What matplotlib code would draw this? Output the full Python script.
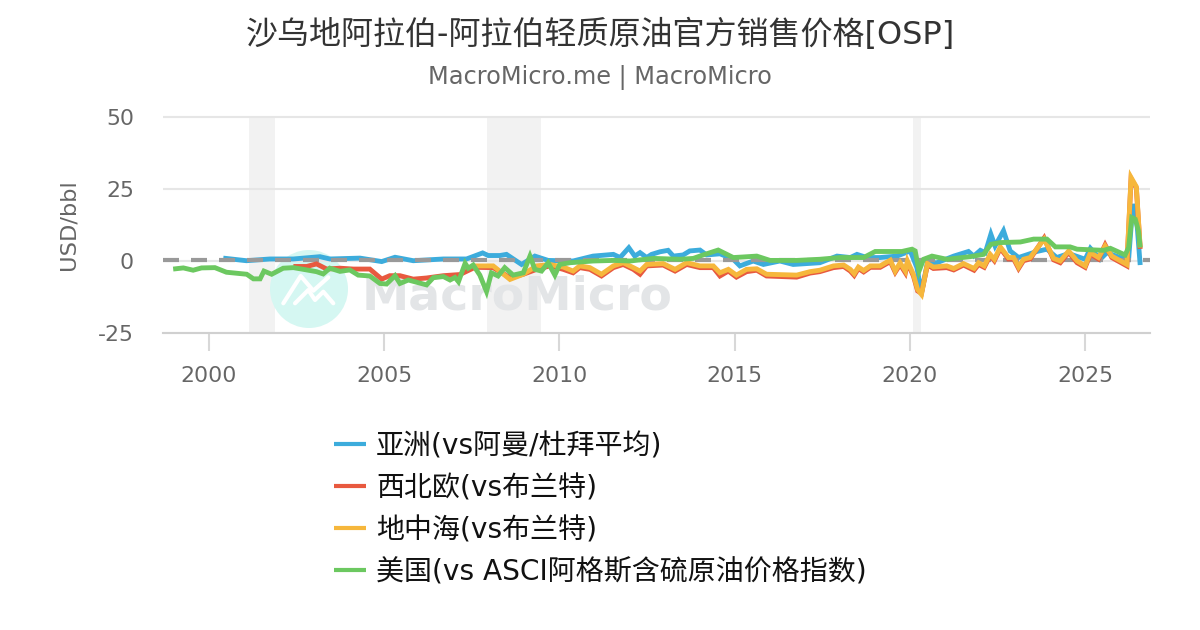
import matplotlib
matplotlib.use("Agg")
import matplotlib.pyplot as plt
from matplotlib.patches import Circle

plt.rcParams['font.family'] = ['DejaVu Sans', 'Noto Sans CJK SC']
plt.rcParams['lines.solid_capstyle'] = 'butt'

asia_x = [2000.41, 2001.07, 2001.74, 2002.41, 2003.17, 2003.45, 2004.31, 2004.93, 2005.31, 2005.83,
          2006.69, 2007.35, 2007.81, 2007.97, 2008.30, 2008.49, 2008.92, 2009.30, 2009.68, 2010.39,
          2010.96, 2011.54, 2011.73, 2011.98, 2012.15, 2012.30, 2012.49, 2012.63, 2012.87, 2013.10,
          2013.25, 2013.53, 2013.72, 2014.01, 2014.20, 2014.58, 2014.96, 2015.15, 2015.53, 2015.82,
          2016.29, 2016.67, 2017.43, 2017.92, 2018.30, 2018.49, 2018.77, 2019.15, 2019.63, 2020.01,
          2020.20, 2020.33, 2020.50, 2020.77, 2021.25, 2021.67, 2021.82, 2022.01, 2022.15, 2022.31,
          2022.43, 2022.67, 2022.86, 2023.10, 2023.62, 2023.91, 2024.19, 2024.53, 2025.00, 2025.15,
          2025.43, 2025.62, 2026.00, 2026.24, 2026.36, 2026.48, 2026.57]
asia_y = [1.0, 0.1, 0.7, 0.7, 1.5, 0.7, 1.0, -0.2, 1.3, 0.1,
          0.7, 0.7, 2.8, 1.9, 1.9, 2.3, -1.2, 1.7, 0.2, 0.0,
          1.7, 2.3, 1.2, 4.6, 1.7, 2.9, 1.2, 2.3, 3.2, 3.7,
          1.7, 2.1, 3.5, 3.8, 2.1, 2.5, 0.6, -1.7, 0.0, -1.2,
          0.0, -1.2, -0.6, 1.7, 1.2, 2.3, 1.2, 1.2, 1.7, 3.5,
          -2.3, -11.0, -0.6, -0.6, 1.7, 3.3, 1.7, 3.7, 2.9, 9.3,
          5.2, 10.5, 3.5, 1.2, 3.3, 4.1, 1.2, 2.6, 0.6, 4.4,
          0.6, 2.9, 1.2, 0.6, 19.8, 12.8, -1.4]

nwe_x = [2002.41, 2002.79, 2003.07, 2003.36, 2003.74, 2004.12, 2004.59, 2004.93, 2005.16, 2005.45,
         2005.83, 2006.21, 2006.69, 2007.16, 2007.59, 2008.11, 2008.59, 2008.97, 2009.35, 2009.73,
         2010.11, 2010.39, 2010.58, 2010.87, 2011.20, 2011.54, 2011.82, 2012.11, 2012.30, 2012.49,
         2012.96, 2013.30, 2013.63, 2014.01, 2014.39, 2014.58, 2014.82, 2015.05, 2015.34, 2015.63,
         2015.91, 2016.77, 2017.15, 2017.43, 2017.82, 2018.11, 2018.30, 2018.41, 2018.53, 2018.68,
         2018.87, 2019.15, 2019.44, 2019.58, 2019.72, 2019.87, 2019.93, 2020.10, 2020.22, 2020.33,
         2020.50, 2020.67, 2021.05, 2021.25, 2021.53, 2021.83, 2021.96, 2022.12, 2022.29, 2022.41,
         2022.58, 2022.81, 2022.96, 2023.10, 2023.24, 2023.43, 2023.83, 2024.10, 2024.29, 2024.53,
         2024.77, 2025.00, 2025.15, 2025.38, 2025.57, 2025.76, 2026.19, 2026.31, 2026.46, 2026.57]
nwe_y = [-1.9, -1.9, -1.0, -2.8, -2.5, -2.8, -2.8, -6.3, -5.1, -5.1,
         -6.3, -5.9, -5.1, -4.7, -2.2, -2.3, -5.8, -4.6, -2.9, -1.7,
         -2.9, -4.1, -2.3, -2.9, -5.2, -2.3, -1.2, -2.9, -4.6, -1.7,
         -1.4, -3.5, -1.2, -2.3, -2.3, -5.2, -3.5, -5.6, -3.7, -3.2,
         -5.2, -5.6, -4.2, -3.7, -2.3, -1.9, -3.5, -5.0, -2.6, -3.8,
         -2.2, -2.2, -0.2, -3.9, -1.2, -4.1, -0.6, -5.2, -10.4, -11.2,
         -1.4, -2.6, -2.3, -3.1, -1.4, -3.2, -1.2, -2.2, 1.9, 0.1,
         4.4, 0.7, 0.7, -2.6, 0.1, 0.7, 8.0, 0.4, -0.6, 3.0,
         -0.6, -2.2, 2.4, 0.7, 5.6, 1.2, -1.7, 28.6, 25.4, 4.2]

med_x = [2007.59, 2008.11, 2008.59, 2008.97, 2009.35, 2009.73, 2010.11, 2010.39, 2010.58, 2010.87,
         2011.20, 2011.54, 2011.82, 2012.11, 2012.30, 2012.49, 2012.96, 2013.30, 2013.63, 2014.01,
         2014.39, 2014.58, 2014.82, 2015.05, 2015.34, 2015.63, 2015.91, 2016.77, 2017.15, 2017.43,
         2017.82, 2018.11, 2018.30, 2018.41, 2018.53, 2018.68, 2018.87, 2019.15, 2019.44, 2019.58,
         2019.72, 2019.87, 2019.93, 2020.10, 2020.22, 2020.33, 2020.50, 2020.67, 2021.05, 2021.25,
         2021.53, 2021.83, 2021.96, 2022.12, 2022.29, 2022.41, 2022.58, 2022.81, 2022.96, 2023.10,
         2023.24, 2023.43, 2023.83, 2024.10, 2024.29, 2024.53, 2024.77, 2025.00, 2025.15, 2025.38,
         2025.57, 2025.76, 2026.19, 2026.31, 2026.46, 2026.57]
med_y = [-1.7, -1.7, -6.4, -4.6, -1.7, -1.2, -2.1, -3.5, -1.7, -2.3,
         -4.6, -1.7, -0.6, -2.3, -3.5, -1.2, -0.9, -2.9, -0.6, -1.7,
         -1.7, -4.1, -2.9, -4.9, -2.9, -2.7, -4.6, -4.9, -3.7, -3.2,
         -1.7, -1.4, -2.9, -4.4, -2.1, -3.3, -1.7, -1.7, 0.3, -3.5,
         -0.6, -3.5, 0.0, -4.7, -9.9, -11.6, -0.9, -2.1, -1.7, -2.6,
         -0.9, -2.6, -0.6, -1.7, 2.3, 0.6, 4.9, 1.2, 1.2, -2.1,
         0.6, 1.2, 7.6, 0.9, 0.0, 3.5, 0.0, -1.7, 2.9, 1.2,
         5.2, 1.7, -1.2, 29.0, 25.8, 4.7]

us_x = [1998.98, 1999.27, 1999.55, 1999.79, 2000.17, 2000.50, 2001.08, 2001.27, 2001.46, 2001.57,
        2001.79, 2002.12, 2002.41, 2002.79, 2003.07, 2003.26, 2003.45, 2003.74, 2004.02, 2004.26,
        2004.59, 2004.88, 2005.07, 2005.31, 2005.45, 2005.69, 2006.21, 2006.40, 2006.69, 2006.88,
        2007.02, 2007.12, 2007.31, 2007.40, 2007.54, 2007.73, 2007.92, 2008.06, 2008.25, 2008.44,
        2008.68, 2008.97, 2009.16, 2009.30, 2009.49, 2009.68, 2009.87, 2010.01, 2010.30, 2010.96,
        2011.54, 2012.01, 2012.68, 2013.44, 2013.82, 2014.10, 2014.53, 2014.96, 2015.25, 2015.63,
        2016.01, 2016.77, 2017.43, 2018.01, 2018.68, 2019.01, 2019.44, 2019.77, 2020.06, 2020.15,
        2020.26, 2020.39, 2020.63, 2021.05, 2021.72, 2022.10, 2022.31, 2022.58, 2023.15, 2023.53,
        2023.91, 2024.15, 2024.57, 2024.77, 2025.53, 2025.72, 2026.14, 2026.24, 2026.33, 2026.43,
        2026.52, 2026.57]
us_y = [-2.8, -2.4, -3.2, -2.4, -2.3, -3.9, -4.6, -6.2, -6.2, -3.5,
        -4.6, -2.5, -2.3, -3.1, -3.7, -4.5, -2.5, -3.6, -3.1, -4.9,
        -5.2, -7.8, -8.0, -5.1, -7.8, -6.6, -8.3, -5.8, -5.4, -6.6,
        -5.7, -7.2, -0.8, -2.5, -1.4, -4.9, -10.6, -4.1, -5.2, -2.3,
        -4.9, -4.1, 1.7, -2.9, -3.5, -0.6, -4.9, -1.2, -0.6, 0.0,
        0.2, 0.0, 0.9, 0.6, 0.9, 2.1, 3.8, 1.2, 1.4, 1.7,
        0.2, 0.2, 0.6, 1.2, 1.2, 3.3, 3.3, 3.3, 4.1, 3.5,
        -3.5, 0.6, 1.7, 0.6, 1.5, 2.3, 5.8, 6.4, 6.6, 7.6,
        7.6, 4.9, 4.9, 4.1, 3.7, 4.4, 2.1, 4.7, 15.1, 14.5,
        10.5, 4.7]

series_labels = ['亚洲(vs阿曼/杜拜平均)', '西北欧(vs布兰特)', '地中海(vs布兰特)', '美国(vs ASCI阿格斯含硫原油价格指数)']
series_colors = ['#3cacdc', '#e8593f', '#f6b73c', '#6cc860']
recessions = [(2001.14, 2001.88), (2007.93, 2009.47), (2020.09, 2020.32)]

fig = plt.figure(figsize=(12, 6.3), dpi=100)
ax = fig.add_axes([163 / 1200, 1 - 333 / 630, (1150 - 163) / 1200, (333 - 117) / 630])
ax.set_xlim(1998.69, 2026.85)
ax.set_ylim(-25, 50)


def ax_x(px):
    return (px - 163) / 987


def ax_y(py):
    return (333 - py) / 216


for start, end in recessions:
    ax.axvspan(start, end, color='#f2f2f2', lw=0, zorder=0)

ax.set_yticks([-25, 0, 25, 50])
ax.set_yticklabels(['-25', '0', '25', '50'])
ax.set_xticks([2000, 2005, 2010, 2015, 2020, 2025])
ax.grid(axis='y', color='#e6e6e6', lw=1.5, zorder=1)
for gl in ax.get_ygridlines():
    gl.set_clip_on(False)
ax.tick_params(axis='y', length=0, labelsize=15.8, labelcolor='#666666', pad=21)
ax.tick_params(axis='x', length=13, width=1.5, color='#d8d8d8', labelsize=15.8, labelcolor='#666666', pad=11)
for name in ['top', 'left', 'right']:
    ax.spines[name].set_visible(False)
ax.spines['bottom'].set_color('#d0d0d0')
ax.spines['bottom'].set_linewidth(1.5)
fig.text(69 / 1200, 1 - 225 / 630, 'USD/bbl', rotation=90, ha='center', va='center', fontsize=16.2, color='#666666')

# watermark, sits under the lines
ax.add_patch(Circle((309, 630 - 289), 39, transform=None, color='#d5f7f2', lw=0, zorder=1.5))
ax.text(ax_x(362), ax_y(310), 'MacroMicro', transform=ax.transAxes, fontsize=34.2, fontweight='bold',
        color='#e3e5e7', zorder=1.5)
logo_a_x = [283.3, 300.7, 313.3, 328.3]
logo_a_y = [303.3, 276, 290.7, 277.3]
logo_b_x = [295, 308.3, 315, 323.3, 333.3]
logo_b_y = [303.3, 290, 300, 291.7, 303.3]
for lx, ly in [(logo_a_x, logo_a_y), (logo_b_x, logo_b_y)]:
    ax.plot([ax_x(v) for v in lx], [ax_y(v) for v in ly], transform=ax.transAxes, color='white', lw=3,
            zorder=1.6, solid_capstyle='round')

lines = []
xs = [asia_x, nwe_x, med_x, us_x]
ys = [asia_y, nwe_y, med_y, us_y]
for i, (x, y, c, label) in enumerate(zip(xs, ys, series_colors, series_labels)):
    # dashed zero line lies over blue but under the others
    z = 2 if i == 0 else 4
    line, = ax.plot(x, y, color=c, lw=3.5, label=label, zorder=z, solid_joinstyle='miter')
    lines.append(line)

ax.axhline(0.2, color='#999999', lw=3, dashes=(3.84, 2.88), zorder=3)

fig.text(0.5, 1 - 34.5 / 630, '沙乌地阿拉伯-阿拉伯轻质原油官方销售价格[OSP]', ha='center', va='center',
         fontsize=23.05, color='#333333')
fig.text(0.5, 1 - 78 / 630, 'MacroMicro.me | MacroMicro', ha='center', va='center',
         fontsize=17.25, color='#666666')

leg = fig.legend(handles=lines, loc='upper left', bbox_to_anchor=(309 / 1200, 1 - 407 / 630), frameon=False,
                 fontsize=20.15, handlelength=1.14, handletextpad=0.36, labelspacing=0.5, labelcolor='#111111')
for h in leg.get_lines():
    h.set_linewidth(3)

fig.savefig('out.png', dpi=100)
